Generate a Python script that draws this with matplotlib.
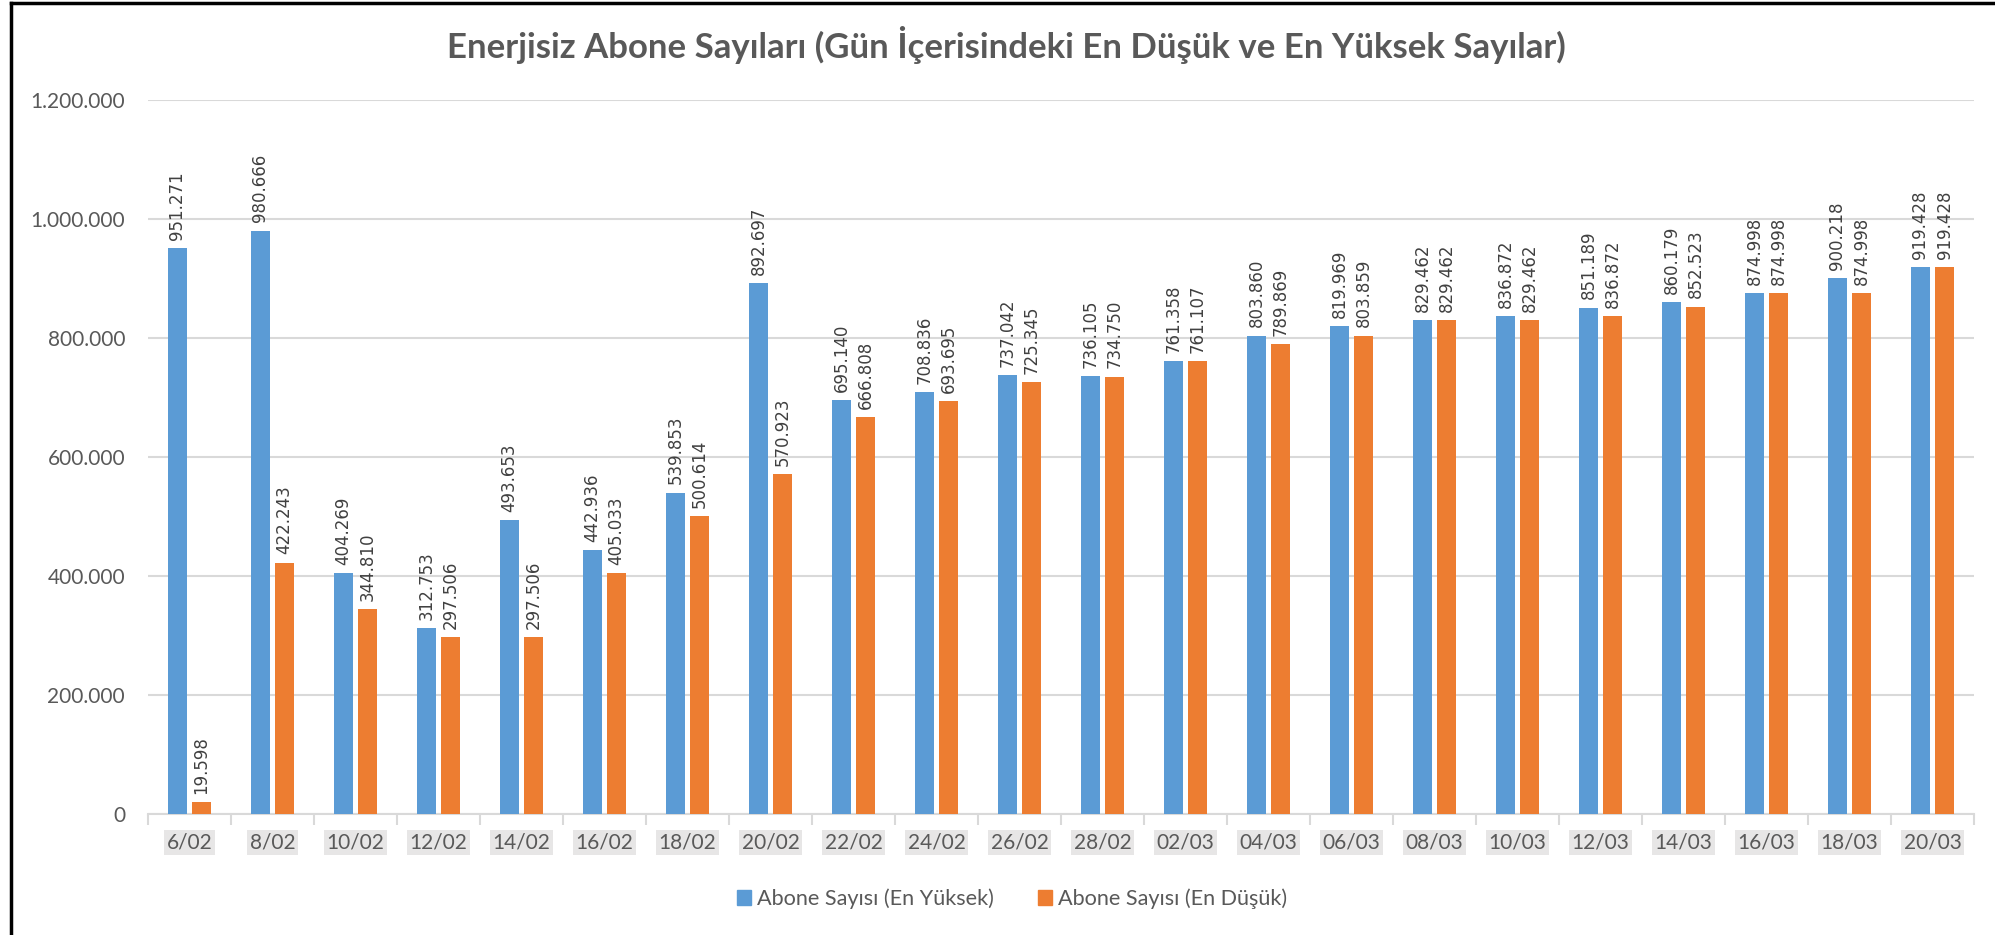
import matplotlib.pyplot as plt
from matplotlib.patches import Patch
import numpy as np

# gün etiketleri ve değerler
dates = ["6/02", "8/02", "10/02", "12/02", "14/02", "16/02", "18/02", "20/02",
         "22/02", "24/02", "26/02", "28/02", "02/03", "04/03", "06/03", "08/03",
         "10/03", "12/03", "14/03", "16/03", "18/03", "20/03"]
en_yuksek = [951271, 980666, 404269, 312753, 493653, 442936, 539853, 892697,
             695140, 708836, 737042, 736105, 761358, 803860, 819969, 829462,
             836872, 851189, 860179, 874998, 900218, 919428]
en_dusuk = [19598, 422243, 344810, 297506, 297506, 405033, 500614, 570923,
            666808, 693695, 725345, 734750, 761107, 789869, 803859, 829462,
            829462, 836872, 852523, 874998, 874998, 919428]
yticks = [0, 200000, 400000, 600000, 800000, 1000000, 1200000]

BLUE = "#5B9BD5"
ORANGE = "#ED7D31"
GREY = "#595959"
GRID = "#D9D9D9"


def fmt(v):
    return f"{v:,}".replace(",", ".")


W, H = 1995, 935
fig = plt.figure(figsize=(W / 100, H / 100), dpi=100)
ax = fig.add_axes([148 / W, (H - 814) / H, (1974 - 148) / W, (814 - 100) / H])

x = np.arange(len(dates))
bw = 0.22
off = 0.145
b1 = ax.bar(x - off, en_yuksek, bw, color=BLUE, zorder=3)
b2 = ax.bar(x + off, en_dusuk, bw, color=ORANGE, zorder=3)

for bars, vals in ((b1, en_yuksek), (b2, en_dusuk)):
    for rect, v in zip(bars, vals):
        ax.annotate(fmt(v), (rect.get_x() + rect.get_width() / 2, v),
                    xytext=(0, 6), textcoords="offset points",
                    rotation=90, ha="center", va="bottom",
                    fontsize=12, color="#404040", family="DejaVu Sans")

ax.set_xlim(-0.5, len(dates) - 0.5)
ax.set_ylim(0, 1200000)
ax.set_yticks(yticks)
ax.set_yticklabels([fmt(t) for t in yticks], fontsize=15, color=GREY, family="Lato")
ax.tick_params(axis="y", length=0, pad=16.5)
ax.grid(axis="y", color=GRID, linewidth=1.5, zorder=0)

ax.set_xticks(x)
ax.set_xticklabels(dates, fontsize=15, color=GREY, family="Lato")
ax.set_xticks(np.arange(len(dates) + 1) - 0.5, minor=True)
ax.tick_params(axis="x", which="major", length=0, pad=13.3)
ax.tick_params(axis="x", which="minor", length=8, width=1.5, color=GRID)
for lbl in ax.get_xticklabels():
    lbl.set_bbox(dict(facecolor="#E7E6E6", edgecolor="none", pad=1.8))

for s in ("top", "right", "left"):
    ax.spines[s].set_visible(False)
ax.spines["bottom"].set_color(GRID)
ax.spines["bottom"].set_linewidth(1.5)

fig.text(1006 / W, 1 - 58 / H, "Enerjisiz Abone Sayıları (Gün İçerisindeki En Düşük ve En Yüksek Sayılar)",
         ha="center", va="baseline", fontsize=25, fontweight="bold", color=GREY, family="Lato")

handles = [Patch(color=BLUE, label="Abone Sayısı (En Yüksek)"),
           Patch(color=ORANGE, label="Abone Sayısı (En Düşük)")]
fig.legend(handles=handles, loc="center", bbox_to_anchor=(1012 / W, 1 - 899 / H), ncol=2,
           frameon=False, handlelength=0.65, handleheight=0.65, handletextpad=0.28,
           columnspacing=2.0, prop={"family": "Lato", "size": 15.6}, labelcolor=GREY)

# çerçeve (sol ve üst kenar)
fig.add_artist(plt.Line2D([11 / W, 11 / W], [0, 1 - 3 / H], color="black", linewidth=2.5,
                          transform=fig.transFigure))
fig.add_artist(plt.Line2D([11 / W, 1], [1 - 3 / H, 1 - 3 / H], color="black", linewidth=2.5,
                          transform=fig.transFigure))

fig.savefig("out.png", dpi=100)
